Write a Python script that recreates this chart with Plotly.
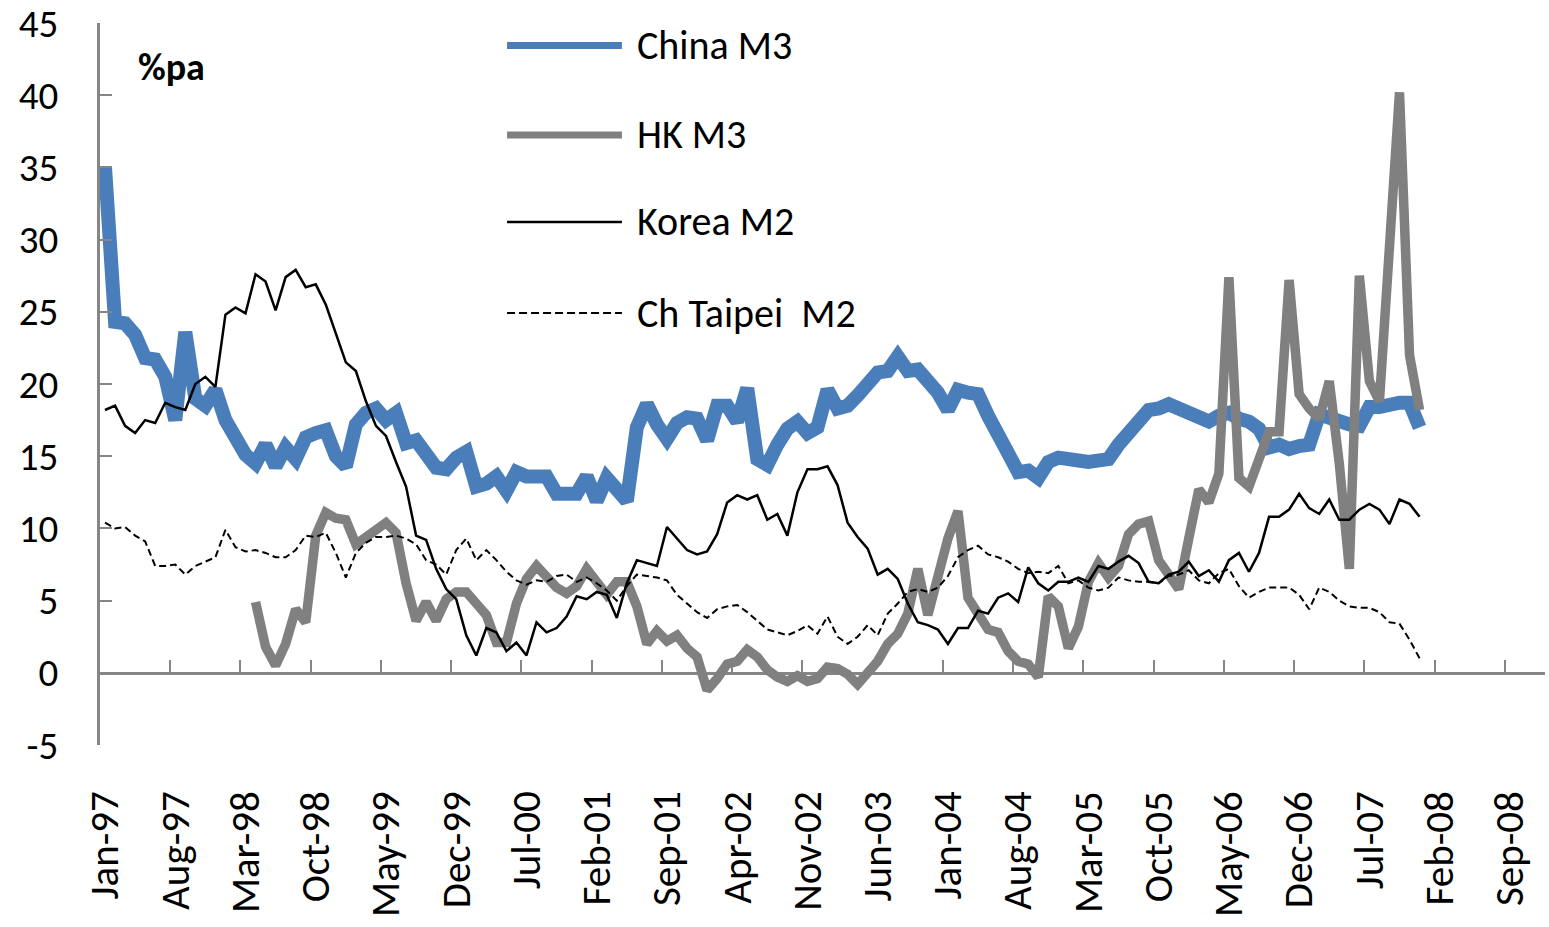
import pandas as pd
import plotly.graph_objects as go

# Monthly categories Jan-97 .. Dec-08 (axis extends through 2008)
months = list(pd.date_range("1997-01-01", periods=144, freq="MS").strftime("%b-%y"))
tick_labels = months[::7]

china_m3 = [35.0, 24.3, 24.2, 23.4, 21.8, 21.7, 20.5, 17.5, 23.6, 19.0, 18.5, 19.6,
            17.5, 16.3, 15.1, 14.5, 15.8, 14.3, 15.6, 14.8, 16.3, 16.6, 16.8, 15.0,
            14.3, 17.2, 18.0, 18.3, 17.5, 18.0, 15.9, 16.1, 15.0, 14.2, 14.1, 14.9,
            15.3, 12.9, 13.1, 13.6, 12.6, 13.9, 13.6, 13.5, 13.6, 12.4, 12.3, 12.4,
            13.6, 11.9, 13.5, 12.6, 11.9, 17.0, 18.6, 17.2, 16.2, 17.3, 17.7, 17.6,
            16.1, 18.5, 18.5, 17.4, 19.7, 14.8, 14.4, 15.8, 16.9, 17.4, 16.6, 17.0,
            19.6, 18.3, 18.5, 19.2, 20.2, 20.8, 20.9, 21.9, 20.9, 21.0, 20.2, 19.4,
            18.2, 19.6, 19.4, 19.3, 17.8, 16.2, 15.2, 13.9, 14.0, 13.5, 14.6, 14.9,
            14.9, 14.7, 14.6, 14.6, 14.8, 15.8, 16.6, 17.4, 18.2, 18.3, 18.6, 18.3,
            18.0, 17.7, 17.4, 17.8, 18.0, 17.6, 17.4, 16.9, 15.6, 15.8, 15.5, 15.7,
            15.8, 17.9, 17.6, 17.4, 17.2, 17.1, 18.4, 18.4, 18.6, 18.7, 18.7, 17.0]

hk_m3 = [None] * 15 + [
    4.9, 1.8, 0.5, 2.0, 4.4, 3.5, 9.5, 11.1, 10.7,
    10.6, 8.9, 9.4, 10.1, 10.4, 9.7, 6.2, 3.6, 4.9, 3.6, 5.1, 5.6,
    5.6, 4.8, 4.0, 2.1, 2.1, 4.8, 6.5, 7.4, 6.7, 5.9, 5.5, 6.0,
    7.2, 6.2, 5.4, 6.3, 6.3, 4.6, 2.0, 2.9, 2.2, 2.6, 1.7, 1.1,
    -1.2, -0.4, 0.6, 0.8, 1.6, 1.1, 0.2, -0.3, -0.6, -0.2, -0.6, -0.4,
    0.4, 0.3, -0.1, -0.8, 0.0, 0.8, 2.0, 2.7, 4.1, 7.2, 4.0, 6.6,
    9.3, 11.2, 5.2, 4.1, 3.0, 2.8, 1.5, 0.8, 0.6, -0.3, 5.3, 4.6,
    1.7, 3.2, 6.3, 7.6, 6.6, 7.4, 9.6, 10.3, 10.5, 7.8, 6.7, 5.8,
    9.3, 12.7, 11.8, 13.8, 27.4, 13.5, 12.9, 14.8, 16.7, 16.7, 27.2, 19.3,
    18.3, 17.6, 20.2, 14.5, 7.2, 27.5, 20.2, 18.8, 29.0, 40.2, 22.0, 18.2]

korea_m2 = [18.2, 18.5, 17.1, 16.6, 17.5, 17.3, 18.7, 18.4, 18.2, 20.0, 20.5, 19.8,
            24.8, 25.3, 24.9, 27.6, 27.1, 25.1, 27.4, 27.9, 26.7, 26.9, 25.5, 23.5,
            21.5, 20.9, 18.8, 17.1, 16.4, 14.6, 12.9, 9.5, 9.2, 7.2, 5.8, 5.1,
            2.6, 1.2, 3.1, 2.8, 1.5, 2.1, 1.2, 3.5, 2.8, 3.1, 3.9, 5.3,
            5.1, 5.6, 5.4, 3.8, 6.2, 7.8, 7.6, 7.4, 10.1, 9.3, 8.5, 8.2,
            8.4, 9.6, 11.8, 12.3, 12.0, 12.3, 10.6, 11.0, 9.5, 12.5, 14.1, 14.1,
            14.3, 13.0, 10.4, 9.4, 8.6, 6.8, 7.2, 6.5, 4.8, 3.5, 3.3, 3.0,
            2.0, 3.1, 3.1, 4.3, 4.1, 5.2, 5.5, 4.9, 7.3, 6.2, 5.7, 6.3,
            6.3, 6.6, 6.3, 7.4, 7.2, 7.7, 8.1, 7.6, 6.3, 6.2, 6.8, 7.0,
            7.7, 6.7, 7.1, 6.3, 7.8, 8.3, 7.0, 8.3, 10.8, 10.8, 11.3, 12.4,
            11.4, 11.0, 12.0, 10.6, 10.6, 11.3, 11.7, 11.3, 10.3, 12.0, 11.7, 10.8]

taipei_m2 = [10.4, 10.0, 10.1, 9.5, 9.1, 7.4, 7.4, 7.5, 6.8, 7.4, 7.7, 8.0,
             9.9, 8.7, 8.4, 8.5, 8.3, 8.0, 8.0, 8.5, 9.5, 9.4, 9.7, 8.3,
             6.6, 8.3, 9.0, 9.4, 9.4, 9.5, 9.3, 8.9, 7.8, 7.5, 6.8, 8.5,
             9.3, 7.8, 8.5, 7.8, 7.0, 6.4, 6.1, 6.4, 6.3, 6.7, 6.8, 6.3,
             6.6, 6.2, 5.7, 5.0, 6.0, 6.8, 6.7, 6.6, 6.4, 5.4, 4.8, 4.2,
             3.8, 4.4, 4.6, 4.7, 4.2, 3.6, 3.0, 2.8, 2.6, 2.9, 3.3, 2.7,
             3.9, 2.5, 2.0, 2.5, 3.3, 2.6, 4.1, 4.8, 5.6, 5.8, 5.6, 5.9,
             6.7, 8.0, 8.5, 8.8, 8.2, 8.0, 7.7, 7.2, 6.9, 7.0, 6.9, 7.4,
             6.2, 6.4, 5.9, 5.7, 5.9, 6.6, 6.4, 6.3, 6.3, 6.2, 6.7, 6.8,
             7.1, 6.4, 6.2, 6.9, 7.2, 6.0, 5.2, 5.6, 5.9, 5.9, 5.9, 5.4,
             4.4, 5.9, 5.6, 5.0, 4.6, 4.5, 4.5, 4.2, 3.5, 3.4, 2.3, 1.0]

series_names = ["China M3", "HK M3", "Korea M2", "Ch Taipei\u00a0 M2"]
y_ticks = [-5, 0, 5, 10, 15, 20, 25, 30, 35, 40, 45]
y_ticktext = ["-5", "0", "5", "10", "15", "20", "25", "30", "35", "40", "45"]

BLUE = "#4A7EBB"
GREY = "#808080"
AXIS = "#868686"
FONT = "Carlito, Calibri, Lato, sans-serif"

n = len(china_m3)
x_idx = list(range(n))

fig = go.Figure()
fig.add_trace(go.Scatter(x=x_idx, y=china_m3, mode="lines", name=series_names[0],
                         line=dict(color=BLUE, width=14), showlegend=False))
fig.add_trace(go.Scatter(x=x_idx, y=hk_m3, mode="lines", name=series_names[1],
                         line=dict(color=GREY, width=9.5), showlegend=False))
fig.add_trace(go.Scatter(x=x_idx, y=korea_m2, mode="lines", name=series_names[2],
                         line=dict(color="black", width=2.5), showlegend=False))
fig.add_trace(go.Scatter(x=x_idx, y=taipei_m2, mode="lines", name=series_names[3],
                         line=dict(color="black", width=2, dash="7px,4px"),
                         showlegend=False, xaxis="x2"))

xrange = [-0.5, len(months) - 0.5]

fig.update_layout(
    width=1549, height=927,
    margin=dict(l=100, r=4, t=23, b=182, autoexpand=False),
    paper_bgcolor="white", plot_bgcolor="white",
    font=dict(family=FONT, color="black"),
    xaxis=dict(
        range=xrange, tickmode="array",
        tickvals=[months.index(t) for t in tick_labels], ticktext=tick_labels,
        tickangle=-90, tickfont=dict(size=41, family=FONT, color="black"),
        ticks="", showline=False, showgrid=False, zeroline=False,
        ticklabelstandoff=37, automargin=False, ticklabeloverflow="allow",
    ),
    xaxis2=dict(
        overlaying="x", anchor="free", position=0.1, range=xrange,
        tickmode="array",
        tickvals=[months.index(t) - 0.5 for t in tick_labels] + [len(months) - 0.5],
        showticklabels=False, ticks="inside", ticklen=12, tickwidth=2,
        tickcolor=AXIS, showline=True, linecolor=AXIS, linewidth=3,
        showgrid=False, zeroline=False, layer="below traces", automargin=False,
    ),
    yaxis=dict(
        range=[-5, 45], tickmode="array", tickvals=y_ticks, ticktext=y_ticktext,
        ticks="inside", ticklen=12, tickwidth=2,
        tickcolor=AXIS, showline=True, linecolor=AXIS, linewidth=3,
        showgrid=False, zeroline=False,
        tickfont=dict(size=39, family=FONT, color="black"),
        ticklabelstandoff=31, automargin=False, ticklabeloverflow="allow",
    ),
)

# Legend drawn as long Excel-style line samples + labels
leg_styles = [dict(color=BLUE, width=7), dict(color=GREY, width=7),
              dict(color="black", width=2.5), dict(color="black", width=2, dash="8px,4px")]
leg_y = [0.9688, 0.8449, 0.7244, 0.5983]
for name, st, yy in zip(series_names, leg_styles, leg_y):
    fig.add_shape(type="line", xref="paper", yref="paper", x0=0.2817, x1=0.3612,
                  y0=yy, y1=yy, line=st)
    fig.add_annotation(text=name, xref="paper", yref="paper", x=0.3702, y=yy,
                       xanchor="left", yanchor="middle", showarrow=False,
                       font=dict(size=40, family=FONT, color="black"))

fig.add_annotation(text="<b>%pa</b>", xref="paper", yref="paper", x=0.0498, y=0.939,
                   xanchor="center", yanchor="middle", showarrow=False,
                   font=dict(size=38, family=FONT, color="black"))

fig.write_html("out.html", config={"displayModeBar": False},
               post_script="document.body.style.margin='0';document.body.style.overflow='hidden';")
